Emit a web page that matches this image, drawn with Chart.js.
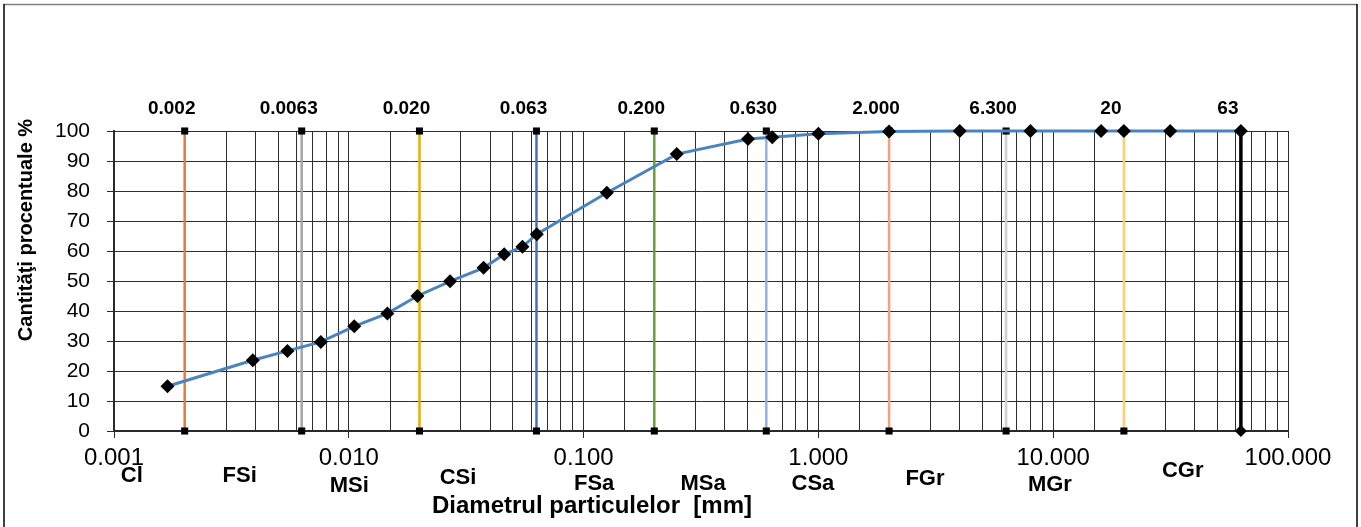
<!DOCTYPE html>
<html>
<head>
<meta charset="utf-8">
<script src="https://cdn.jsdelivr.net/npm/chart.js@4/dist/chart.umd.min.js"></script>
<style>
  html, body { margin: 0; padding: 0; background: #fff; }
  #wrap { width: 1361px; height: 527px; position: relative; }
</style>
</head>
<body>
<div id="wrap"><canvas id="grading" width="1361" height="527"></canvas></div>
<script>
// grain size curve (mm / % passing)
var sizes = [0.00169, 0.0039, 0.00548, 0.0076, 0.01055, 0.0146, 0.0196, 0.027, 0.0375, 0.0459, 0.0549, 0.0632,
             0.1256, 0.2493, 0.5015, 0.636, 1.0, 2.0, 4.0, 8.0, 16.0, 20.0, 31.5, 63.0];
var passing = [14.9, 23.6, 26.7, 29.7, 34.9, 39.2, 45.0, 49.9, 54.4, 58.9, 61.4, 65.6,
               79.4, 92.3, 97.3, 97.9, 99.1, 99.8, 100, 100, 100, 100, 100, 100];

// fraction limits
var limitValues = [0.002, 0.0063, 0.02, 0.063, 0.2, 0.6, 2.0, 6.3, 20, 63];
var limitLabels = ['0.002', '0.0063', '0.020', '0.063', '0.200', '0.630', '2.000', '6.300', '20', '63'];
var limitColors = ['#E57B36', '#A5A5A5', '#EAAE00', '#4470C0', '#6A9E3C', '#8FB4E0', '#F4A27E', '#D0D0D0', '#FFCC7A', '#000000'];

var classNames = ['Cl', 'FSi', 'MSi', 'CSi', 'FSa', 'MSa', 'CSa', 'FGr', 'MGr', 'CGr'];

var yTitle = 'Cantităţi procentuale %';
var xTitle = 'Diametrul particulelor  [mm]';

var FONT = "'Liberation Sans', Arial, sans-serif";

function isDecade(v) {
  var l = Math.log10(v);
  return Math.abs(l - Math.round(l)) < 1e-9;
}

var datasets = [{
  data: sizes.map(function(s, i) { return { x: s, y: passing[i] }; }),
  borderColor: '#4A84C0',
  borderWidth: 3,
  pointStyle: 'rectRot',
  pointRadius: 7,
  pointBackgroundColor: '#000',
  pointBorderColor: '#000',
  pointBorderWidth: 0,
  tension: 0,
  clip: false,
  order: 0
}];

limitValues.forEach(function(v, i) {
  var last = i === limitValues.length - 1;
  datasets.push({
    data: [{ x: v, y: 0 }, { x: v, y: 100 }],
    borderColor: limitColors[i],
    borderWidth: last ? 3.5 : 2.5,
    pointStyle: last ? 'rectRot' : 'rect',
    pointRadius: last ? 6 : 5,
    pointBackgroundColor: '#000',
    pointBorderColor: '#000',
    pointBorderWidth: 0,
    clip: false,
    order: 2
  });
});

// text placed around the plot (x in mm, baseline in px)
var classAt = [0.00119, 0.00343, 0.01004, 0.0292, 0.1109, 0.3226, 0.948, 2.843, 9.68, 35.6];
var classBase = [482, 482, 491.5, 484, 490, 490, 490, 485, 490.5, 476.5];

var decor = {
  id: 'decor',
  afterDraw: function(chart) {
    var c = chart.ctx;
    var xs = chart.scales.x;
    c.save();

    // frame
    c.lineWidth = 1.5;
    c.strokeStyle = '#7f7f7f';
    c.beginPath(); c.moveTo(4, 4.5); c.lineTo(1357, 4.5); c.stroke();
    c.strokeStyle = '#000';
    c.beginPath(); c.moveTo(4, 4); c.lineTo(4, 527); c.stroke();
    c.beginPath(); c.moveTo(1357, 4); c.lineTo(1357, 527); c.stroke();

    c.fillStyle = '#000';
    c.textAlign = 'center';
    c.textBaseline = 'alphabetic';

    c.font = 'bold 19px ' + FONT;
    limitValues.forEach(function(v, i) {
      c.fillText(limitLabels[i], xs.getPixelForValue(v) - 13, 114);
    });

    c.font = 'bold 22px ' + FONT;
    classNames.forEach(function(n, i) {
      c.fillText(n, xs.getPixelForValue(classAt[i]), classBase[i]);
    });

    c.font = 'bold 24px ' + FONT;
    c.fillText(xTitle, 592, 513);

    c.translate(26, 230);
    c.rotate(-Math.PI / 2);
    c.textBaseline = 'middle';
    c.font = 'bold 20px ' + FONT;
    c.fillText(yTitle, 0, 0);
    c.restore();
  }
};

new Chart(document.getElementById('grading'), {
  type: 'line',
  data: { datasets: datasets },
  options: {
    responsive: false,
    animation: false,
    layout: { padding: { left: 0, top: 131, right: 73, bottom: 0 } },
    plugins: { legend: { display: false }, tooltip: { enabled: false }, title: { display: false } },
    scales: {
      x: {
        type: 'logarithmic',
        min: 0.001,
        max: 100,
        afterFit: function(s) { s.height = 96; },
        border: { color: '#2a2a2a', width: 2 },
        grid: {
          color: '#2e2e2e',
          lineWidth: 1,
          tickLength: 7,
          tickColor: function(ctx) {
            return ctx.tick && isDecade(ctx.tick.value) ? '#2a2a2a' : 'rgba(0,0,0,0)';
          }
        },
        ticks: {
          autoSkip: false,
          maxRotation: 0,
          padding: 6,
          color: '#000',
          font: { family: FONT, size: 24 },
          callback: function(v) { return isDecade(v) ? v.toFixed(3) : ''; }
        }
      },
      y: {
        min: 0,
        max: 100,
        afterFit: function(s) { s.width = 114; },
        border: { color: '#2a2a2a', width: 2 },
        grid: { color: '#2e2e2e', lineWidth: 1, tickLength: 7, tickColor: '#2a2a2a' },
        ticks: { stepSize: 10, padding: 17, color: '#000', font: { family: FONT, size: 21 } }
      }
    }
  },
  plugins: [decor]
});
</script>
</body>
</html>
